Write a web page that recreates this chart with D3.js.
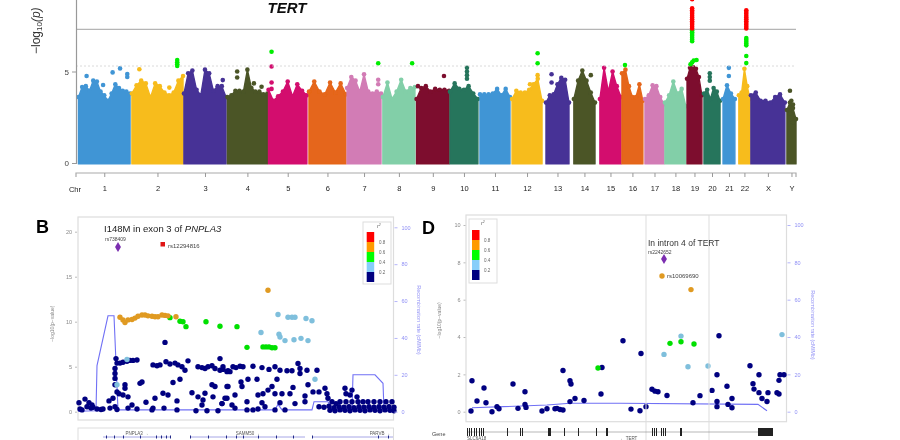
<!DOCTYPE html>
<html>
<head>
<meta charset="utf-8">
<script src="https://cdn.jsdelivr.net/npm/d3@7"></script>
<style>
html, body { margin: 0; padding: 0; background: #fff; overflow: hidden; }
text { font-family: "Liberation Sans", Arial, sans-serif; }
</style>
</head>
<body>
<svg id="chart" width="900" height="440"></svg>
<script>
// Top panel: genome wide scan
const chrNames = ['1','2','3','4','5','6','7','8','9','10','11','12','13','14','15','16','17','18','19','20','21','22','X','Y']
const chrStart = [2,232,456,643,820,994,1158,1312,1457,1601,1730,1868,2014,2134,2246,2341,2440,2526,2621,2694,2776,2844,2896,3051]
const chrEnd = [224,452,637,815,985,1153,1304,1450,1597,1721,1859,1997,2113,2225,2337,2431,2522,2616,2685,2763,2827,2892,3042,3090]
const chrColors = ['#4195d5','#f7bc1e','#463296','#4b5428','#d30a6e','#e5661a','#d27cb5','#82cfa8','#7d112d','#27745c']

// top of the point cloud, read along each chromosome
const chrTops = [
  [3.6,4.15,4.2,3.95,4.5,4.45,3.9,3.7,3.4,3.8,4.3,4.1,3.95,3.9,3.8],
  [3.8,4.25,4.5,4.35,3.6,4.35,4.2,3.85,3.7,3.85,4.5,4.75],
  [3.8,4.9,5.05,4.0,3.7,5.1,4.9,3.95,4.2,4.2,3.6],
  [3.6,3.7,3.95,3.95,3.9,5.1,4.1,3.9,3.9,3.75,3.8],
  [4.0,3.4,3.65,3.9,4.45,3.65,4.3,3.95,3.7],
  [3.9,4.45,3.9,3.75,4.4,3.85,4.35,3.75],
  [4.1,4.7,4.5,3.9,4.85,3.9,3.8,3.9,3.8],
  [3.6,4.4,3.5,3.9,4.55,3.9,4.1,4.15],
  [3.5,4.1,4.2,3.9,4.05,4.0,4.0,3.95],
  [3.9,4.35,4.05,4.0,4.2,3.8,3.5],
  [3.75,3.75,3.75,3.8,4.05,3.7,4.05,3.6],
  [3.5,3.95,3.85,3.85,4.0,4.3,4.6,3.4],
  [3.3,3.7,3.75,4.3,4.65,4.55,3.3],
  [3.5,4.5,5.05,4.5,3.85,3.3],
  [3.5,5.2,3.9,5.0,4.2,3.6],
  [4.9,5.1,4.2,3.6,3.6,4.3,3.4],
  [3.5,3.7,4.25,4.2,3.6,3.2],
  [3.3,3.7,4.45,3.8,4.05,3.1],
  [4.6,5.2,5.25,5.15,4.7,3.7],
  [3.8,4.0,3.5,4.1,3.9,3.4],
  [3.5,4.25,3.8,3.5],
  [3.7,3.85,5.15,4.2,3.5],
  [3.7,3.85,3.4,3.4,3.3,3.6,3.75,3.3],
  [2.9,3.3,3.0,2.4]
]
// loose points above the cloud: chromosome index, position, value
const loosePoints = [
  [0,37,4.75],[0,108,4.26],[0,149,4.95],[0,181,5.17],[0,212,4.86],[0,212,4.7],
  [1,264,5.12],[1,393,4.12],[2,623,4.53],[3,685,5.0],[3,685,4.67],[3,757,4.35],[3,790,4.17],
  [4,833,5.27],[4,833,4.4],[4,833,4.05],[6,1292,4.55],[6,1292,4.3],[8,1463,4.2],[8,1575,4.75],
  [9,1674,5.2],[9,1674,5.0],[9,1674,4.8],[9,1674,4.6],[11,1945,4.3],[11,1978,4.8],
  [12,2038,4.85],[12,2038,4.4],[13,2207,4.8],[19,2719,4.9],[19,2719,4.7],[19,2719,4.5],
  [20,2801,5.2],[20,2801,4.75],[23,3064,3.95],[23,3070,3.4],[23,3077,3.2],[23,3064,2.7],[23,3077,2.2]
]
const greenPoints = [
  [427,5.63],[427,5.5],[427,5.4],[427,5.3],[833,6.08],[1292,5.45],[1438,5.45],[1978,5.45],[1978,6.0],[2354,5.35],
  [2636,5.4],[2643,5.5],[2650,5.6],[2662,5.63],[2643,7.25],[2643,7.15],[2643,7.05],[2643,6.95],[2643,6.85],[2643,6.75],[2643,6.65],
  [2876,6.83],[2876,6.73],[2876,6.63],[2876,6.53],[2876,6.43],[2876,5.85],[2876,5.46]
]
const redPoints = [
  [2643,8.95],[2643,8.45],[2643,8.35],[2643,8.25],[2643,8.15],[2643,8.05],[2643,7.95],[2643,7.85],[2643,7.75],[2643,7.65],[2643,7.55],[2643,7.45],[2643,7.35],
  [2876,8.35],[2876,8.25],[2876,8.15],[2876,8.05],[2876,7.95],[2876,7.85],[2876,7.75],[2876,7.65],[2876,7.55],[2876,7.45],[2876,7.35]
]
const mhYTicks = [0, 5]

// Panel B: PNPLA3 region
const navyB = [
  [1,1],[2,.3],[4,.2],[7,1.4],[9,.55],[11,1],[13,.4],[14,.75],[15,.5],[19,.3],[23,.25],[25,.3],[31,1.2],[32,.4],[35,1.5],[37,.55],[39,.25],
  [39,2.2],[41,2],[45,1.85],[50,1.65],[37,3],[47,3],[47,2.6],[37,3.7],[37,4.25],[37,4.8],[38,5.9],
  [39,5.4],[42,5.4],[45,5.5],[49,5.6],[52,5.7],[55,5.7],[59,5.75],[87,7.7],[75,5.2],[79,5.1],[82,5.2],[88,5.55],[92,5.3],[97,5.4],[100,5.2],[104,5],[107,4.6],[110,5.65],
  [120,5],[124,4.9],[127,4.8],[130,5],[134,5.1],[137,4.8],[142,5.9],[142,4.6],[145,4.7],[150,4.55],
  [62,3.15],[64,3.3],[95,3.25],[102,3.6],[134,3],[137,2.8],[149,2.8],[114,2.1],[120,1.65],[127,2.05],[125,1.3],[124,.75],[135,1.65],[144,.9],[149,1.5],
  [85,2.05],[90,1.85],[99,1.2],[77,1.5],[68,1.05],[54,.75],[50,.4],[59,.3],[74,.2],[75,.4],[86,.4],[99,.2],[118,.1],[129,.1],[140,.1],
  [145,5],[149,4.45],[155,5],[152,4.45],[158,4.9],[162,5.05],[165,5],[175,5.05],[184,4.9],[191,4.7],[197,5],[202,4.6],[209,4.55],[214,4.55],[220,5.35],[222,4.8],[222,4.25],[229,4.6],[239,4.6],
  [199,3.6],[170,3.6],[179,3.6],[163,3.3],[150,2.8],[164,2.8],[194,2.8],[190,2.4],[197,2],[215,2.7],[230,3],[235,2.2],[241,2.2],[247,2.6],[249,2],[212,2],[204,2],[180,1.85],[185,2],[157,1.85],[147,1.5],[227,1.75],
  [144,.9],[154,.75],[169,1.1],[184,1],[202,1],[217,.9],[227,1.1],[157,.4],[169,.2],[175,.2],[180,.3],[187,.55],[197,.2],[207,.2],
  [267,2.6],[268,2],[274,2.4],[272,1.85],[279,1.65],[250,1.5],[254,1.1],[258,.9],[262,1.1],[268,1.1],[274,1.1],[280,1.1],[285,1.1],[290,1.1],[296,1.1],[302,1.1],[308,1.1],[314,1.1],
  [241,.55],[246,.5],[251,.6],[256,.45],[261,.55],[266,.5],[271,.55],[276,.45],[281,.55],[286,.5],[291,.55],[296,.5],[301,.55],[306,.5],[311,.55],[316,.5],
  [252,.15],[257,.1],[262,.2],[267,.15],[272,.1],[277,.2],[282,.15],[287,.1],[292,.2],[297,.15],[302,.1],[307,.2],[312,.15],[316,.1]
]
const lightBlueB = [[49,5.8],[39,3],[200,10.8],[210,10.5],[214,10.5],[217,10.5],[228,10.35],[234,10.1],[183,8.8],[201,8.6],[202,8.3],[207,7.9],[216,8],[223,8.15],[230,7.9],[237,3.6]]
const greenB = [[92,10.45],[102,10.05],[105,10],[108,9.45],[128,10],[142,9.5],[159,9.45],[169,7.15],[185,7.2],[188,7.2],[191,7.2],[194,7.1],[197,7.1]]
const orangeB = [[42,10.5],[45,10.2],[47,9.9],[50,10.2],[54,10.25],[57,10.4],[60,10.6],[64,10.75],[67,10.75],[70,10.65],[74,10.6],[77,10.55],[80,10.55],[84,10.75],[87,10.7],[90,10.65],[98,10.55],[190,13.5]]
const recombB = [[0,.3],[18,.5],[19,25],[30,52],[36,52],[40,1],[197,1],[200,4],[204,1],[234,1],[236,5.4],[250,5.4],[255,1],[274,1],[275,20],[297,20],[305,15.4],[306,1],[316,.5]]
const pTicksB = [0, 5, 10, 15, 20]
const genesB = [{name: 'PNPLA3 →', from: 25, to: 92, label: 59}, {name: 'SAMM50 →', from: 112, to: 227, label: 170}, {name: 'PARVB →', from: 234, to: 315, label: 302}]
const exonsB = [28, 36, 45, 62, 78, 83, 88, 92, 112, 130, 148, 158, 165, 180, 198, 215, 234, 300, 310]

// Panel D: TERT region
const navyD = [
  [5,.04],[6,1.66],[11,.57],[18,1.27],[20,.48],[26,0],[31,.27],[33,.16],[47,1.48],[52,.18],[59,1.07],[59,.39],[60,.23],[76,.04],[81,.16],[89,.16],[91,.18],[94,.12],[97,.09],
  [97,2.21],[104,1.66],[105,1.48],[104,.54],[109,.71],[118,.6],[136,2.37],[135,.95],
  [157,3.8],[175,3.12],[165,.14],[174,.05],[180,.27],[186,1.2],[189,1.1],[192,1.07],[201,.87],[227,.48],[234,.86],[246,1.14],[253,4.07],[251,1.98],[251,.55],[251,.27],[261,1.36],[266,.71],[262,.39],[266,.21],
  [284,2.46],[287,1.5],[288,1.21],[293,1.98],[293,1.02],[296,.71],[302,1.02],[301,.55],[311,1.02],[313,.95],[313,1.68],[314,1.98],[318,1.98]
]
const lightBlueD = [[198,3.07],[215,4.05],[222,2.41],[242,2.45],[316,4.13]]
const greenD = [[132,2.34],[204,3.66],[215,3.75],[228,3.63]]
const orangeD = [[225,6.54],[196,7.27]]
const recombD = [[6,2.1],[81,3.6],[104,4.5],[154,4.5],[292,3.9],[301,.5]]
const pTicksD = [0, 2, 4, 6, 8, 10]
const exonsD = [1,3,5,8,10,13,15,17,41,54,56,82,83,84,98,112,130,140,141,186,188,190,195,197,199,214,215,292,293,294,295,296,297,298,299,300,301,302,303,304,305,306]
const boundaryD = [180, 243]

const rateTicks = [0, 20, 40, 60, 80, 100]
const ldColors = ['#ff0000', '#ff9a00', '#00ff00', '#87cefa', '#000080']
const ldLabels = ['0.8', '0.6', '0.4', '0.2']

const svg = d3.select('#chart')
const defs = svg.append('defs')
defs.append('filter').attr('id', 'soft')
  .attr('x', 0).attr('y', 0).attr('width', 1).attr('height', 1)
  .append('feGaussianBlur').attr('stdDeviation', 0.6)
defs.append('filter').attr('id', 'softer')
  .attr('x', -0.1).attr('y', -0.1).attr('width', 1.2).attr('height', 1.2)
  .append('feGaussianBlur').attr('stdDeviation', 0.3)
const root = svg.append('g').attr('filter', 'url(#soft)')
root.append('rect').attr('width', 900).attr('height', 440).attr('fill', '#fff')

drawGenomeScan(root)
drawRegion(root, {
  left: 78, right: 393.5, top: 217, bottom: 420, span: 315.5, y0: 411.7, yMax: 20, yMaxPx: 231.7,
  rate100: 227.3, ticks: pTicksB, tickX: 77, labelX: 54, rateLabelX: 417, rateLabelY: 320,
  navy: navyB, lightBlue: lightBlueB, green: greenB, orange: orangeB, recomb: recombB, r: 2.7
})
drawRegion(root, {
  left: 466, right: 786.5, top: 215, bottom: 421.7, span: 320.5, y0: 411.7, yMax: 10, yMaxPx: 225,
  rate100: 225, ticks: pTicksD, tickX: 465.5, labelX: 441, rateLabelX: 811, rateLabelY: 325,
  navy: navyD, lightBlue: lightBlueD, green: greenD, orange: orangeD, recomb: recombD, r: 2.7
})
drawNotes(root)
drawHeadings(svg.append('g').attr('filter', 'url(#softer)'))

function drawGenomeScan(g) {
  const x = d3.scaleLinear().domain([0, 3090]).range([78, 796])
  const y = d3.scaleLinear().domain([0, 9]).range([163, -1.7])
  const colorOf = (i) => chrColors[i % chrColors.length]

  const area = d3.area().x((d) => x(d[0])).y0(y(-0.05)).y1((d) => y(d[1]))

  chrNames.forEach((name, i) => {
    const tops = chrTops[i]
    const stations = tops.map((v, k) => [chrStart[i] + (chrEnd[i] - chrStart[i]) * k / (tops.length - 1), v])
    const c = colorOf(i)
    g.append('path')
      .attr('d', area([[chrStart[i], 0]].concat(stations, [[chrEnd[i], 0]])))
      .attr('fill', c)
      .attr('stroke', c)
      .attr('stroke-width', 1.4)
      .attr('stroke-linejoin', 'round')
    g.selectAll(null).data(stations).enter().append('circle')
      .attr('cx', (d) => x(d[0]))
      .attr('cy', (d) => y(d[1]))
      .attr('r', 2.3)
      .attr('fill', c)
  })

  g.selectAll(null).data(loosePoints).enter().append('circle')
    .attr('cx', (d) => x(d[1]))
    .attr('cy', (d) => y(d[2]))
    .attr('r', 2.3)
    .attr('fill', (d) => colorOf(d[0]))

  // thresholds
  g.append('line').attr('x1', x(0) - 2).attr('x2', x(3090)).attr('y1', y(7.3)).attr('y2', y(7.3))
    .attr('stroke', '#b5b5b5').attr('stroke-width', 1.2)
  g.append('line').attr('x1', x(0) - 2).attr('x2', x(3090)).attr('y1', y(5.3)).attr('y2', y(5.3))
    .attr('stroke', '#d0d0d0').attr('stroke-width', 0.8).attr('stroke-dasharray', '2,2')

  const drawDots = (data, color) => g.selectAll(null).data(data).enter().append('circle')
    .attr('cx', (d) => x(d[0]))
    .attr('cy', (d) => y(d[1]))
    .attr('r', 2.3)
    .attr('fill', color)
  drawDots(greenPoints, '#00ee00')
  drawDots(redPoints, '#ff0000')

  // axes
  const yAxis = d3.axisLeft(y).tickValues(mhYTicks).tickFormat(d3.format('d')).tickSize(4).tickPadding(3)
  const ya = g.append('g').attr('transform', 'translate(76,0)').call(yAxis)
  ya.select('.domain').attr('stroke', '#999').attr('stroke-width', 1.2)
  ya.selectAll('line').attr('stroke', '#999')
  ya.selectAll('text').attr('fill', '#444').attr('font-size', 8)

  const mids = chrNames.map((n, i) => (chrStart[i] + chrEnd[i]) / 2)
  const xAxis = d3.axisBottom(x).tickValues(mids).tickFormat((d, i) => chrNames[i]).tickSize(4).tickPadding(9)
  const xa = g.append('g').attr('transform', 'translate(0,173)').call(xAxis)
  xa.select('.domain').attr('d', 'M76,4V0H796V4').attr('stroke', '#aaa').attr('stroke-width', 1.2).attr('fill', 'none')
  xa.selectAll('line').attr('stroke', '#999')
  xa.selectAll('text').attr('fill', '#222').attr('font-size', 7.5)

  g.append('text').attr('x', 75).attr('y', 192).attr('text-anchor', 'middle').attr('font-size', 7.5).attr('fill', '#222').text('Chr')

  const yLabel = g.append('text').attr('transform', 'translate(40,54) rotate(-90)').attr('font-size', 12).attr('fill', '#333')
  yLabel.append('tspan').text('−log')
  yLabel.append('tspan').attr('font-size', 8).attr('dy', 2).text('10')
  yLabel.append('tspan').attr('dy', -2).attr('font-style', 'italic').text('(p)')
}

function drawRegion(g, o) {
  const x = d3.scaleLinear().domain([0, o.span]).range([o.left, o.right])
  const y = d3.scaleLinear().domain([0, o.yMax]).range([o.y0, o.yMaxPx])
  const rate = d3.scaleLinear().domain([0, 100]).range([o.y0, o.rate100])

  g.append('rect').attr('x', o.left).attr('y', o.top).attr('width', o.right - o.left).attr('height', o.bottom - o.top)
    .attr('fill', 'none').attr('stroke', '#ddd').attr('stroke-width', 1.2)

  const line = d3.line().x((d) => x(d[0])).y((d) => rate(d[1]))
  g.append('path').attr('d', line(o.recomb)).attr('fill', 'none').attr('stroke', '#7070f5').attr('stroke-width', 1.1)

  const dots = (data, color) => g.selectAll(null).data(data).enter().append('circle')
    .attr('cx', (d) => x(d[0]))
    .attr('cy', (d) => y(d[1]))
    .attr('r', o.r)
    .attr('fill', color)
  dots(o.navy, ldColors[4])
  dots(o.lightBlue, '#7fbfdc')
  dots(o.green, '#00e000')
  dots(o.orange, '#e09a20')

  const left = d3.axisLeft(y).tickValues(o.ticks).tickSize(2).tickPadding(3)
  const la = g.append('g').attr('transform', `translate(${o.tickX},0)`).call(left)
  la.select('.domain').remove()
  la.selectAll('line').attr('stroke', '#bbb')
  la.selectAll('text').attr('fill', '#888').attr('font-size', 5.5)

  const right = d3.axisRight(rate).tickValues(rateTicks).tickSize(3).tickPadding(4)
  const ra = g.append('g').attr('transform', `translate(${o.right + 1},0)`).call(right)
  ra.select('.domain').remove()
  ra.selectAll('line').attr('stroke', '#b5b5fa')
  ra.selectAll('text').attr('fill', '#9090f5').attr('font-size', 5.5)

  g.append('text').attr('transform', `translate(${o.labelX},${(o.y0 + o.yMaxPx) / 2 + 2}) rotate(-90)`)
    .attr('text-anchor', 'middle').attr('font-size', 5).attr('fill', '#888').text('−log10(p−value)')
  g.append('text').attr('transform', `translate(${o.rateLabelX},${o.rateLabelY}) rotate(90)`)
    .attr('text-anchor', 'middle').attr('font-size', 5.5).attr('fill', '#9090f5').text('Recombination rate (cM/Mb)')
}

function drawLegend(g, boxX, boxY, boxW, boxH, barX, barY, labelX, titleX) {
  g.append('rect').attr('x', boxX).attr('y', boxY).attr('width', boxW).attr('height', boxH)
    .attr('fill', '#fff').attr('stroke', '#ddd').attr('stroke-width', 1)
  g.selectAll(null).data(ldColors).enter().append('rect')
    .attr('x', barX).attr('y', (d, i) => barY + i * 10)
    .attr('width', 7.5).attr('height', 10)
    .attr('fill', (d) => d)
  g.selectAll(null).data(ldLabels).enter().append('text')
    .attr('x', labelX).attr('y', (d, i) => barY + 11.5 + i * 10)
    .attr('font-size', 4.5).attr('fill', '#666')
    .text((d) => d)
  const t = g.append('text').attr('x', titleX).attr('y', boxY + 6).attr('font-size', 5.5).attr('font-style', 'italic').attr('fill', '#666')
  t.append('tspan').text('r')
  t.append('tspan').attr('font-size', 3.5).attr('dy', -2).text('2')
}

function drawNotes(g) {
  // panel B annotations
  const titleB = g.append('text').attr('x', 104).attr('y', 232).attr('font-size', 9.5).attr('fill', '#222')
  titleB.append('tspan').text('I148M in exon 3 of ')
  titleB.append('tspan').attr('font-style', 'italic').text('PNPLA3')
  g.append('text').attr('x', 105).attr('y', 241).attr('font-size', 5).attr('fill', '#444').text('rs738409')
  g.append('text').attr('x', 168).attr('y', 248).attr('font-size', 6).attr('fill', '#444').text('rs12294816')
  g.append('path').attr('d', d3.symbol(d3.symbolDiamond, 30)()).attr('transform', 'translate(118,247)').attr('fill', '#7b2fb0')
  g.append('rect').attr('x', 160.5).attr('y', 242).attr('width', 4.5).attr('height', 4.5).attr('fill', '#e01818')
  drawLegend(g, 363, 222, 28, 62, 366.7, 232, 379, 377)

  // panel D annotations
  g.selectAll(null).data(boundaryD).enter().append('line')
    .attr('x1', (d) => 466 + d).attr('x2', (d) => 466 + d).attr('y1', 215).attr('y2', 440)
    .attr('stroke', '#ddd').attr('stroke-width', 1)
  g.append('text').attr('x', 648).attr('y', 246).attr('font-size', 8.5).attr('fill', '#333').text('In intron 4 of TERT')
  g.append('text').attr('x', 648).attr('y', 254).attr('font-size', 5).attr('fill', '#444').text('rs2242652')
  g.append('text').attr('x', 667).attr('y', 278).attr('font-size', 6).attr('fill', '#444').text('rs10069690')
  g.append('path').attr('d', d3.symbol(d3.symbolDiamond, 30)()).attr('transform', 'translate(664,259)').attr('fill', '#7b2fb0')
  drawLegend(g, 469, 219, 28, 64, 472, 230, 484, 481)

  // gene track B
  const xB = d3.scaleLinear().domain([0, 315.5]).range([78, 393.5])
  g.append('rect').attr('x', 78).attr('y', 428).attr('width', 315.5).attr('height', 14).attr('fill', 'none').attr('stroke', '#ddd').attr('stroke-width', 1)
  g.selectAll(null).data(genesB).enter().append('line')
    .attr('x1', (d) => xB(d.from)).attr('x2', (d) => xB(d.to)).attr('y1', 437).attr('y2', 437)
    .attr('stroke', '#8f8fe0').attr('stroke-width', 0.8)
  g.selectAll(null).data(genesB).enter().append('text')
    .attr('x', (d) => xB(d.label)).attr('y', 434.5).attr('text-anchor', 'middle')
    .attr('font-size', 4.5).attr('fill', '#555').text((d) => d.name)
  g.selectAll(null).data(exonsB).enter().append('rect')
    .attr('x', (d) => xB(d)).attr('y', 435.5).attr('width', 1).attr('height', 3).attr('fill', '#222a88')

  // gene track D
  const xD = d3.scaleLinear().domain([0, 320.5]).range([466, 786.5])
  g.append('text').attr('x', 432).attr('y', 436).attr('font-size', 5.5).attr('fill', '#444').text('Gene')
  g.append('line').attr('x1', xD(1)).attr('x2', xD(306)).attr('y1', 432).attr('y2', 432).attr('stroke', '#888').attr('stroke-width', 0.6)
  g.selectAll(null).data(exonsD).enter().append('rect')
    .attr('x', (d) => xD(d)).attr('y', 428).attr('width', 1).attr('height', 8).attr('fill', '#222')
  g.append('text').attr('x', 467).attr('y', 440).attr('font-size', 4.5).attr('fill', '#555').text('SLC6A18')
  g.append('text').attr('x', 620).attr('y', 440).attr('font-size', 4.5).attr('fill', '#555').text('← TERT')
}

function drawHeadings(g) {
  const panelLetter = (letter, px, py) => g.append('text').attr('x', px).attr('y', py)
    .attr('font-size', 18).attr('font-weight', 'bold').attr('fill', '#000').text(letter)
  panelLetter('B', 36, 233)
  panelLetter('D', 422, 234)
  g.append('text').attr('x', 287).attr('y', 13).attr('text-anchor', 'middle')
    .attr('font-size', 15).attr('font-weight', 'bold').attr('font-style', 'italic').attr('fill', '#111').text('TERT')
}
</script>
</body>
</html>
